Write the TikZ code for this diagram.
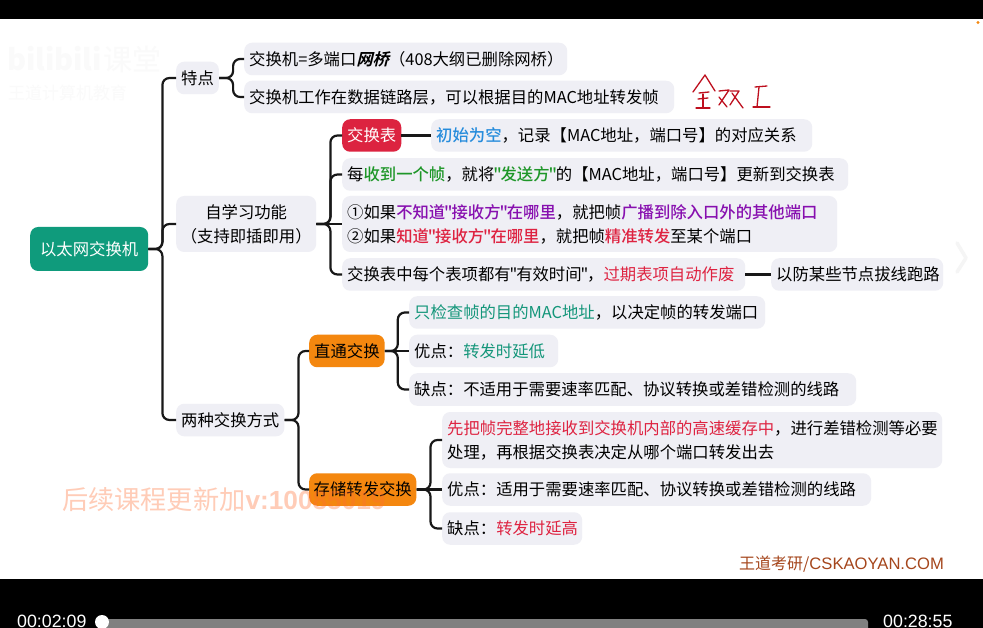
\documentclass[tikz,border=0pt]{standalone}
\usepackage{fontspec}
\setmainfont{Noto Sans CJK SC}
\newfontfamily\mapfont[BoldFont={Noto Sans CJK SC Medium}]{Noto Sans CJK SC}
\newfontfamily\slantfont[FakeSlant=0.25]{Noto Sans CJK SC Bold}
\newfontfamily\playerfont{Liberation Sans}
\usepackage{tikz}
\usepackage{xcolor}
\definecolor{rootcol}{RGB}{15,155,124}
\definecolor{tablecol}{RGB}{220,35,64}
\definecolor{modecol}{RGB}{244,135,15}
\definecolor{boxcol}{RGB}{239,239,245}
\definecolor{linecol}{RGB}{24,24,24}
\definecolor{bluecol}{RGB}{38,140,220}
\definecolor{greencol}{RGB}{30,150,40}
\definecolor{purplecol}{RGB}{135,15,175}
\definecolor{crimsoncol}{RGB}{222,35,65}
\definecolor{tealcol}{RGB}{20,150,122}
\definecolor{inkcol}{RGB}{190,15,30}
\definecolor{brandcol}{RGB}{165,70,28}
\definecolor{markcol}{RGB}{255,110,50}
\tikzset{
  % rounded box of the map
  tbox/.style={rectangle, rounded corners=8pt, fill=#1, minimum height=32.5pt, inner xsep=5pt, inner ysep=0pt,
               anchor=west, font=\mapfont\fontsize{16.35}{24}\selectfont},
  tbox/.default={boxcol},
  % box with a fixed width, text at its left
  leaf/.style={tbox, text width=#1, align=left},
  % branch between boxes
  branch/.style={draw=linecol, line width=2.2pt, rounded corners=7pt},
  % text over the picture
  brand/.style={inner sep=0pt, anchor=west, text=#1},
  % handwriting
  inkline/.style={draw=inkcol, line width=1.3pt, line cap=round, line join=round},
  % player time
  timelabel/.style={inner sep=0pt, anchor=west, text=white, font=\playerfont\fontsize{17.8}{20}\selectfont},
}
\newcommand{\hl}[2]{\textcolor{#1}{#2}}
\newcommand{\hb}[2]{\textcolor{#1}{\bfseries #2}}
\newcommand{\qm}{\kern-1.1pt"\kern-1.1pt}

\begin{document}
\begin{tikzpicture}[x=1pt,y=-1pt]
  \useasboundingbox (0,0) rectangle (983,628);
  \clip (0,0) rectangle (983,628);
  \fill[white] (0,0) rectangle (983,628);
  \fill[black] (0,0) rectangle (983,19);
  \fill[black] (0,579) rectangle (983,628);

  % faint logo
  \node[brand=black!2, font=\bfseries\fontsize{29}{32}\selectfont] (logo) at (7,59) {bilibili};
  \node[brand=black!2, font=\fontsize{29}{32}\selectfont] (logoclass) at (103,59) {课堂};
  \node[brand=black!2, font=\fontsize{17}{20}\selectfont] (logosub) at (8,93) {王道计算机教育};

  % root
  \node[tbox=rootcol, text=white, minimum width=118pt, minimum height=44pt, inner xsep=0pt] (root) at (30,249) {以太网交换机};

  % level 1
  \node[tbox] (feature) at (176,78) {特点};
  \node[tbox, align=center, inner xsep=4pt, minimum width=140pt, minimum height=56pt] (learn) at (176,224) {自学习功能\\（支持即插即用）};
  \node[tbox] (mode) at (176,420) {两种交换方式};

  % features
  \node[leaf=313pt] (bridge) at (244,59) {交换机=多端口{\slantfont 网桥}（408大纲已删除网桥）};
  \node[leaf=420pt] (layer) at (244,97) {交换机工作在数据链路层，可以根据目的MAC地址转发帧};

  % self learning
  \node[tbox=tablecol, text=white] (table) at (342,135.5) {交换表};
  \node[leaf=371pt] (empty) at (431,135.5) {\hb{bluecol}{初始为空}，记录【MAC地址，端口号】的对应关系};
  \node[leaf=496pt] (update) at (342,174.5) {每\hb{greencol}{收到一个帧}，就将\hb{greencol}{\qm 发送方\qm}的【MAC地址，端口号】更新到交换表};
  \node[leaf=485pt, minimum height=56pt] (cases) at (342,224) {①如果\hb{purplecol}{不知道\qm 接收方\qm 在哪里}，就把帧\hb{purplecol}{广播到除入口外的其他端口}\\
    ②如果\hb{crimsoncol}{知道\qm 接收方\qm 在哪里}，就把帧\hb{crimsoncol}{精准转发}至某个端口};
  \node[leaf=393pt] (expire) at (342,274.5) {交换表中每个表项都有\qm 有效时间\qm ，\hl{crimsoncol}{过期表项自动作废}};
  \node[leaf=162pt] (unplug) at (771,274.5) {以防某些节点拔线跑路};

  % cut through
  \node[tbox=modecol] (cut) at (309,351) {直通交换};
  \node[leaf=346pt] (cutcheck) at (409,312.5) {\hl{tealcol}{只检查帧的目的MAC地址}，以决定帧的转发端口};
  \node[leaf=139pt] (cutgood) at (409,351) {优点：\hl{tealcol}{转发时延低}};
  \node[leaf=437pt] (cutbad) at (409,389.5) {缺点：不适用于需要速率匹配、协议转换或差错检测的线路};

  % store and forward
  \node[tbox=modecol, inner xsep=4.5pt] (store) at (309,489.5) {存储转发交换};
  \node[leaf=490pt, minimum height=56pt] (storecheck) at (442,440) {\hl{crimsoncol}{先把帧完整地接收到交换机内部的高速缓存中}，进行差错检测等必要\\处理，再根据交换表决定从哪个端口转发出去};
  \node[leaf=419pt] (storegood) at (442,489.5) {优点：适用于需要速率匹配、协议转换或差错检测的线路};
  \node[leaf=130pt] (storebad) at (442,528.5) {缺点：\hl{crimsoncol}{转发时延高}};

  % branches
  \draw[branch] (root.east) -- ++(14,0) |- (feature.west);
  \draw[branch] (root.east) -- ++(14,0) |- (learn.west);
  \draw[branch] (root.east) -- ++(14,0) |- (mode.west);
  \draw[branch] (feature.east) -- ++(14,0) |- (bridge.west);
  \draw[branch] (feature.east) -- ++(14,0) |- (layer.west);
  \draw[branch] (learn.east) -- ++(14,0) |- (table.west);
  \draw[branch] (learn.east) -- ++(14,0) |- (update.west);
  \draw[branch] (learn.east) -- (cases.west);
  \draw[branch] (learn.east) -- ++(14,0) |- (expire.west);
  \draw[branch] (table.east) -- (empty.west);
  \draw[branch] (expire.east) -- (unplug.west);
  \draw[branch] (mode.east) -- ++(14,0) |- (cut.west);
  \draw[branch] (mode.east) -- ++(14,0) |- (store.west);
  \draw[branch] (cut.east) -- ++(13,0) |- (cutcheck.west);
  \draw[branch] (cut.east) -- (cutgood.west);
  \draw[branch] (cut.east) -- ++(13,0) |- (cutbad.west);
  \draw[branch] (store.east) -- ++(14,0) |- (storecheck.west);
  \draw[branch] (store.east) -- (storegood.west);
  \draw[branch] (store.east) -- ++(14,0) |- (storebad.west);

  % handwritten note
  \draw[inkline] (693,92) -- (705,75) -- (715,91);
  \draw[inkline] (699,93) -- (709,92);
  \draw[inkline] (698,99) -- (708,98);
  \draw[inkline] (703,94) -- (703,108);
  \draw[inkline] (696,108) -- (710,108);
  \draw[inkline] (719,91) -- (729,90) -- (719,105);
  \draw[inkline] (719,97) -- (727,107);
  \draw[inkline] (730,91) -- (739,91) -- (730,105);
  \draw[inkline] (732,93) -- (743,108);
  \draw[inkline] (755,87) -- (767,86);
  \draw[inkline] (759,87) -- (757,107);
  \draw[inkline] (753,107) -- (770,107);

  % chevron at the right
  \draw[black!4, line width=3.5pt, line cap=round, line join=round] (957,243) -- (966,258) -- (957,272);

  % notes over the map
  \node[brand=markcol, opacity=0.35, font=\fontsize{26.2}{30}\selectfont] (ad) at (62,500)
    {后续课程更新加{\playerfont\bfseries v:10085019}};
  \node[brand=brandcol, font=\fontsize{16}{20}\selectfont] (site) at (739,564)
    {王道考研/{\playerfont\fontsize{16.6}{20}\selectfont CSKAOYAN.COM}};

  % player
  \fill[modecol] (978,22.5) circle (1.6);
  \fill[black!50, rounded corners=3pt] (100,619) rectangle (868,636);
  \fill[white] (102,622) circle (7);
  \node[timelabel] (elapsed) at (17,621.5) {00:02:09};
  \node[timelabel] (total) at (883,621.5) {00:28:55};
\end{tikzpicture}
\end{document}
